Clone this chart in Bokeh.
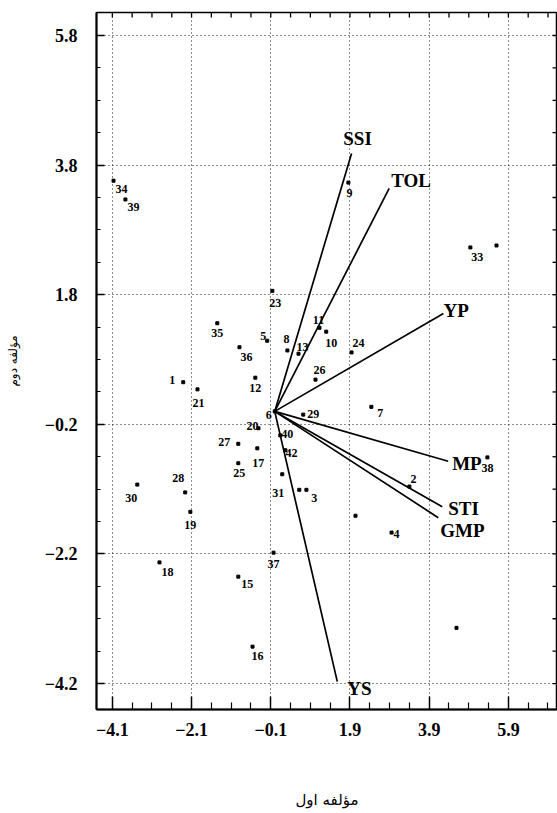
import math
from bokeh.plotting import figure
from bokeh.models import Range1d, FixedTicker, LinearAxis, ColumnDataSource
from bokeh.core.properties import value
from bokeh.embed import file_html
from bokeh.resources import INLINE

# ---------------- data ----------------
genotypes = ["34", "39", "9", "33", "23", "35", "5", "8", "11", "13", "10", "24",
             "36", "26", "1", "21", "12", "6", "29", "7", "20", "40", "27", "42",
             "17", "25", "28", "30", "31", "3", "19", "4", "2", "38", "18", "37",
             "15", "16"]
pc1 = [-4.07, -3.77, 1.86, 4.94, -0.06, -1.45, -0.19, 0.32, 1.13, 0.60, 1.30, 1.94,
       -0.89, 1.03, -2.31, -1.95, -0.49, 0.00, 0.72, 2.44, -0.41, 0.14, -0.92, 0.27,
       -0.44, -0.92, -2.26, -3.47, 0.19, 0.62, -2.13, 2.95, 3.40, 5.37, -2.91, -0.03,
       -0.92, -0.56]
pc2 = [3.56, 3.27, 3.53, 2.53, 1.86, 1.36, 1.09, 0.94, 1.29, 0.89, 1.23, 0.91,
       0.99, 0.49, 0.45, 0.34, 0.52, 0.00, -0.05, 0.07, -0.26, -0.37, -0.50, -0.60,
       -0.57, -0.80, -1.25, -1.13, -0.97, -1.21, -1.55, -1.87, -1.16, -0.71, -2.33, -2.18,
       -2.55, -3.63]

# unlabeled points visible in the figure
extra_pc1 = [2.04, 4.59, 5.60, 0.80]
extra_pc2 = [-1.61, -3.34, 2.56, -1.21]

traits = ["SSI", "TOL", "YP", "MP", "STI", "GMP", "YS"]
trait_pc1 = [1.94, 2.89, 4.26, 4.38, 4.23, 4.13, 1.58]
trait_pc2 = [3.98, 3.44, 1.51, -0.77, -1.47, -1.64, -4.17]

x_ticks = [-4.1, -2.1, -0.1, 1.9, 3.9, 5.9]
y_ticks = [-4.2, -2.2, -0.2, 1.8, 3.8, 5.8]

x_title = "مؤلفه اول"
y_title = "مؤلفه دوم"

# ---------------- label placement (screen px) ----------------
pt_offsets = {
    "34": (8, 8), "39": (8, 8), "9": (1, 10), "33": (7, 10), "23": (3, 12),
    "35": (0, 10), "5": (-4, -5), "8": (-1, -11), "11": (-1, -8), "13": (4, -7),
    "10": (5, 11), "24": (7, -9), "36": (7, 10), "26": (4, -10), "1": (-11, -2),
    "21": (1, 14), "12": (0, 10), "6": (-6, 4), "29": (10, -1), "7": (9, 6),
    "20": (-6, -2), "40": (7, -1), "27": (-14, -2), "42": (6, 3), "17": (1, 15),
    "25": (1, 10), "28": (-7, -14), "30": (-6, 13), "31": (-4, 19), "3": (15, 8),
    "19": (0, 13), "4": (5, 1), "2": (4, -8), "38": (0, 11), "18": (8, 10),
    "37": (0, 11), "15": (9, 7), "16": (5, 9),
}
trait_place = {
    "SSI": ("center", 6, -15), "TOL": ("left", 2, -8), "YP": ("left", 0, -3),
    "MP": ("left", 4, 2), "STI": ("left", 6, 2), "GMP": ("left", 2, 13),
    "YS": ("left", 10, 7),
}

SERIF = "Liberation Serif"
ARAB = "DejaVu Sans"

X0, X1 = -4.5, 7.14
Y0, Y1 = -4.6, 6.155

p = figure(width=557, height=813, output_backend="svg", toolbar_location=None,
           x_range=Range1d(X0, X1), y_range=Range1d(Y0, Y1),
           min_border_left=96, min_border_right=0, min_border_top=12,
           min_border_bottom=104, x_axis_location=None, y_axis_location=None)
p.background_fill_color = "white"
p.border_fill_color = "white"
p.outline_line_color = "black"
p.outline_line_width = 1.5


def minors(majors, lo, hi):
    out = []
    base = majors[0]
    for k in range(-40, 60):
        v = round(base + 0.5 * k, 3)
        if lo <= v <= hi and all(abs(v - m) > 1e-6 for m in majors):
            out.append(v)
    return out


x_minor = minors(x_ticks, X0, X1)
y_minor = minors(y_ticks, Y0, Y1)
xt = FixedTicker(ticks=x_ticks, minor_ticks=x_minor)
yt = FixedTicker(ticks=y_ticks, minor_ticks=y_minor)

xb = LinearAxis(ticker=xt, axis_label=x_title)
yl = LinearAxis(ticker=yt, axis_label=y_title)

for ax in (xb, yl):
    ax.axis_line_width = 2
    ax.axis_line_color = "black"
    ax.major_tick_out = 0
    ax.minor_tick_out = 0
    ax.major_tick_line_width = 1.5
    ax.minor_tick_line_width = 1.2
    ax.major_label_text_font = SERIF
    ax.major_label_text_font_style = "bold"
    ax.major_label_text_font_size = "18px"
    ax.major_label_text_color = "black"
    ax.axis_label_text_font = ARAB
    ax.axis_label_text_font_style = "normal"
    ax.axis_label_text_color = "black"

xb.major_tick_in = 13
xb.minor_tick_in = 7
xb.major_label_standoff = 13
xb.axis_label_standoff = 52
xb.axis_label_text_font_size = "15px"

yl.major_tick_in = 8
yl.minor_tick_in = 4
yl.major_label_standoff = 19
yl.axis_label_standoff = 22
yl.axis_label_text_font_size = "12px"
yl.major_label_orientation = "horizontal"

p.add_layout(xb, "below")
p.add_layout(yl, "left")

# inward ticks on the top and right frame edges
p.ray(x=x_ticks + x_minor, y=[Y1] * (len(x_ticks) + len(x_minor)), length=5,
      length_units="screen", angle=-math.pi / 2, line_color="black", line_width=1.3)
p.ray(x=[X1] * (len(y_ticks) + len(y_minor)), y=y_ticks + y_minor, length=5,
      length_units="screen", angle=math.pi, line_color="black", line_width=1.3)

# grid
p.xgrid.ticker = xt
p.ygrid.ticker = yt
for g in (p.xgrid, p.ygrid):
    g.grid_line_color = "black"
    g.grid_line_dash = "1 3"
    g.grid_line_width = 1
    g.grid_line_alpha = 0.9

# trait vectors
vsrc = ColumnDataSource(dict(x0=[0.0] * len(traits), y0=[0.0] * len(traits),
                             x1=trait_pc1, y1=trait_pc2, name=traits))
p.segment(x0="x0", y0="y0", x1="x1", y1="y1", source=vsrc,
          line_color="black", line_width=1.7)

for t, tx, ty in zip(traits, trait_pc1, trait_pc2):
    al, dx, dy = trait_place[t]
    p.text(x=[tx], y=[ty], text=[t], text_align=al, text_baseline="middle",
           x_offset=dx, y_offset=dy, text_font=value(SERIF),
           text_font_style="bold", text_font_size="19px", text_color="black")

# genotype points
gsrc = ColumnDataSource(dict(x=pc1, y=pc2, lab=genotypes,
                             dx=[pt_offsets[g][0] for g in genotypes],
                             dy=[pt_offsets[g][1] for g in genotypes]))
p.scatter(x="x", y="y", source=gsrc, marker="square", size=3,
          fill_color="black", line_color="black")
p.scatter(x=extra_pc1, y=extra_pc2, marker="square", size=3,
          fill_color="black", line_color="black")
p.text(x="x", y="y", text="lab", source=gsrc, x_offset="dx", y_offset="dy",
       text_align="center", text_baseline="middle", text_font=value(SERIF),
       text_font_style="bold", text_font_size="12px", text_color="black")

open("out.html", "w").write(file_html(p, INLINE))
